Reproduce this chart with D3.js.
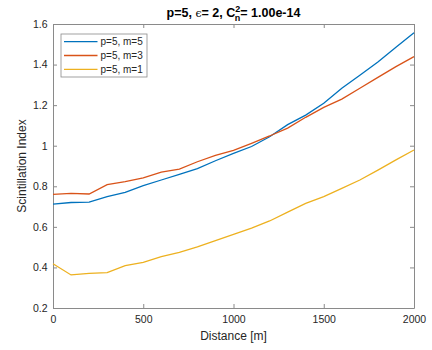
<!DOCTYPE html>
<html>
<head>
<meta charset="utf-8">
<script src="https://cdn.jsdelivr.net/npm/d3@7"></script>
<style>
  body { margin: 0; background: #fff; }
  text { font-family: "Liberation Sans", Arial, sans-serif; }
</style>
</head>
<body>
<svg id="chart" width="432" height="350"></svg>
<script>
// distances [m]
const distance = [0, 100, 200, 300, 400, 500, 600, 700, 800, 900, 1000,
    1100, 1200, 1300, 1400, 1500, 1600, 1700, 1800, 1900, 2000];

// scintillation index per series
const m5 = [0.712, 0.720, 0.722, 0.749, 0.770, 0.803, 0.831, 0.859, 0.887, 0.926, 0.962,
    0.996, 1.044, 1.104, 1.151, 1.209, 1.283, 1.347, 1.413, 1.485, 1.557];
const m3 = [0.760, 0.765, 0.762, 0.808, 0.823, 0.841, 0.870, 0.885, 0.921, 0.952, 0.977,
    1.012, 1.048, 1.087, 1.140, 1.189, 1.230, 1.283, 1.337, 1.390, 1.439];
const m1 = [0.418, 0.363, 0.371, 0.374, 0.409, 0.425, 0.453, 0.474, 0.501, 0.532, 0.563,
    0.594, 0.629, 0.673, 0.716, 0.749, 0.790, 0.831, 0.880, 0.930, 0.979];

const seriesNames = ["p=5, m=5", "p=5, m=3", "p=5, m=1"];
const xTicks = [0, 500, 1000, 1500, 2000];
const yTicks = [0.2, 0.4, 0.6, 0.8, 1, 1.2, 1.4, 1.6];

const series = [
    { name: seriesNames[0], values: m5, color: "#0072BD" },
    { name: seriesNames[1], values: m3, color: "#D95319" },
    { name: seriesNames[2], values: m1, color: "#EDB120" }
];

const margin = { top: 24, right: 18, bottom: 42, left: 53 };
const width = 432 - margin.left - margin.right;
const height = 350 - margin.top - margin.bottom;
const axisColor = "#8a8a8a";
const textColor = "#262626";

const svg = d3.select("#chart");
const g = svg.append("g").attr("transform", `translate(${margin.left},${margin.top})`);

const x = d3.scaleLinear().domain([0, 2000]).range([0, width]);
const y = d3.scaleLinear().domain([0.2, 1.6]).range([height, 0]);

// axes, ticks pointing inward like matlab
function styleAxis(sel) {
    sel.select(".domain").attr("stroke", axisColor);
    sel.selectAll(".tick line").attr("stroke", axisColor);
    sel.selectAll(".tick text").attr("fill", textColor).attr("font-size", 10.5);
}
g.append("g").attr("transform", `translate(0,${height})`)
    .call(d3.axisBottom(x).tickValues(xTicks).tickSizeInner(-4).tickSizeOuter(0).tickPadding(8).tickFormat(d3.format("d")))
    .call(styleAxis);
g.append("g")
    .call(d3.axisLeft(y).tickValues(yTicks).tickSizeInner(-4).tickSizeOuter(0).tickPadding(5.5).tickFormat(d => d3.format("~g")(d)))
    .call(styleAxis);
g.append("g")
    .call(d3.axisTop(x).tickValues(xTicks).tickSizeInner(-4).tickSizeOuter(0).tickFormat(""))
    .call(styleAxis);
g.append("g").attr("transform", `translate(${width},0)`)
    .call(d3.axisRight(y).tickValues(yTicks).tickSizeInner(-4).tickSizeOuter(0).tickFormat(""))
    .call(styleAxis);

// lines
const line = d3.line()
    .x((d, i) => x(distance[i]))
    .y(d => y(d));
series.forEach(s => {
    g.append("path")
        .datum(s.values)
        .attr("fill", "none")
        .attr("stroke", s.color)
        .attr("stroke-width", 1.3)
        .attr("d", line);
});

// legend
const legend = g.append("g").attr("transform", "translate(8,10)");
legend.append("rect")
    .attr("width", 86).attr("height", 43)
    .attr("fill", "#fff").attr("stroke", axisColor).attr("stroke-width", 0.8);
series.forEach((s, i) => {
    const ly = 7.7 + i * 13.8;
    legend.append("line")
        .attr("x1", 3).attr("x2", 36.5).attr("y1", ly).attr("y2", ly)
        .attr("stroke", s.color).attr("stroke-width", 1.3);
    legend.append("text")
        .attr("x", 39.5).attr("y", ly + 3.5)
        .attr("font-size", 10).attr("fill", textColor)
        .text(s.name);
});

// title
const title = svg.append("text")
    .attr("x", margin.left + width / 2).attr("y", 17)
    .attr("text-anchor", "middle")
    .attr("font-size", 12.5).attr("font-weight", "bold").attr("fill", "#000");
title.append("tspan").text("p=5, ");
title.append("tspan").attr("font-weight", "normal").attr("font-family", "DejaVu Serif").attr("font-size", 11).text("\u03F5");
title.append("tspan").text("= 2, C");
title.append("tspan").attr("font-size", 9).attr("dy", -5).text("2");
title.append("tspan").attr("font-size", 9).attr("dx", -5.5).attr("dy", 8.5).text("n");
title.append("tspan").attr("dy", -3.5).text("= 1.00e-14");

// axis labels
svg.append("text")
    .attr("x", margin.left + width / 2).attr("y", 340)
    .attr("text-anchor", "middle").attr("font-size", 12).attr("fill", textColor)
    .text("Distance [m]");
svg.append("text")
    .attr("transform", `translate(26,${margin.top + height / 2}) rotate(-90)`)
    .attr("text-anchor", "middle").attr("font-size", 12).attr("fill", textColor)
    .text("Scintillation Index");
</script>
</body>
</html>
